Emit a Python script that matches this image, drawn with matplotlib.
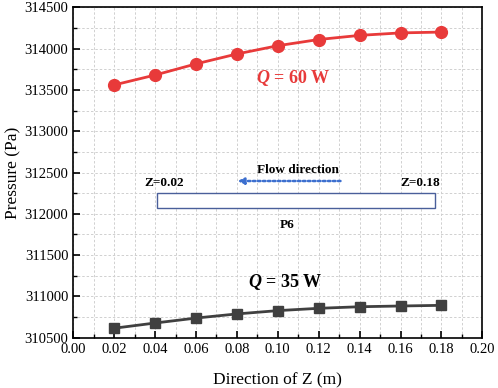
import matplotlib
matplotlib.use("Agg")
import matplotlib.pyplot as plt
from matplotlib.ticker import MultipleLocator
from matplotlib.patches import Rectangle

z = [0.02, 0.04, 0.06, 0.08, 0.10, 0.12, 0.14, 0.16, 0.18]
p_60w = [313560, 313680, 313815, 313935, 314035, 314110, 314160, 314190, 314200]
p_35w = [310615, 310678, 310738, 310788, 310828, 310856, 310875, 310884, 310892]

plt.rcParams['font.family'] = ['Liberation Serif', 'DejaVu Serif']
plt.rcParams['mathtext.fontset'] = 'custom'
plt.rcParams['mathtext.it'] = 'Liberation Serif:italic:bold'
plt.rcParams['mathtext.rm'] = 'Liberation Serif:bold'
plt.rcParams['mathtext.bf'] = 'Liberation Serif:bold'

fig = plt.figure(figsize=(4.98, 3.88), dpi=100)
ax = fig.add_axes([0.1472, 0.1296, 0.8213, 0.8516])

red = '#e83a3a'
gray = '#404040'
ax.plot(z, p_60w, '-o', color=red, lw=2, ms=8.5, zorder=3)
ax.plot(z, p_35w, '-s', color=gray, lw=2, ms=7, zorder=3)

ax.set_xlim(0, 0.2)
ax.set_ylim(310500, 314500)
ax.xaxis.set_major_locator(MultipleLocator(0.02))
ax.xaxis.set_minor_locator(MultipleLocator(0.01))
ax.yaxis.set_major_locator(MultipleLocator(500))
ax.yaxis.set_minor_locator(MultipleLocator(250))
ax.xaxis.set_major_formatter(plt.FuncFormatter(lambda v, p: f"{v:.2f}"))
ax.grid(True, which='both', color='#d0d0d0', ls=(0, (2.5, 2)), lw=0.7, zorder=0)
ax.tick_params(which='major', direction='in', length=5, width=1.2, labelsize=10.5, top=False, right=False)
ax.tick_params(which='minor', direction='in', length=3, width=1.0, top=False, right=False)
for s in ax.spines.values():
    s.set_linewidth(1.2)

ax.set_xlabel('Direction of Z (m)', fontsize=12.5, labelpad=12)
ax.set_ylabel('Pressure (Pa)', fontsize=12.5, labelpad=2)

ax.text(0.1074, 313640, r'$Q$ = 60 W', color=red, fontsize=13, fontweight='bold', ha='center', va='center')
ax.text(0.1035, 311178, r'$Q$ = 35 W', color='black', fontsize=13, fontweight='bold', ha='center', va='center')

ax.add_patch(Rectangle((0.0409, 312066), 0.1362, 189, fill=True, facecolor='white', edgecolor='#4a5f9a', lw=1.0, zorder=2))
ax.annotate('', xy=(0.0790, 312397), xytext=(0.1320, 312397),
            arrowprops=dict(arrowstyle='-|>', color='#3c6fcf', lw=1.8, ls=(0, (1, 1)), mutation_scale=9), zorder=4)
ax.text(0.1099, 312530, 'Flow direction', fontsize=9.5, fontweight='bold', ha='center', va='center')
ax.text(0.0443, 312377, 'Z=0.02', fontsize=9.5, fontweight='bold', ha='center', va='center')
ax.text(0.1698, 312377, 'Z=0.18', fontsize=9.5, fontweight='bold', ha='center', va='center')
ax.text(0.1047, 311864, 'P6', fontsize=9.5, fontweight='bold', ha='center', va='center')

fig.savefig('out.png', dpi=100)
